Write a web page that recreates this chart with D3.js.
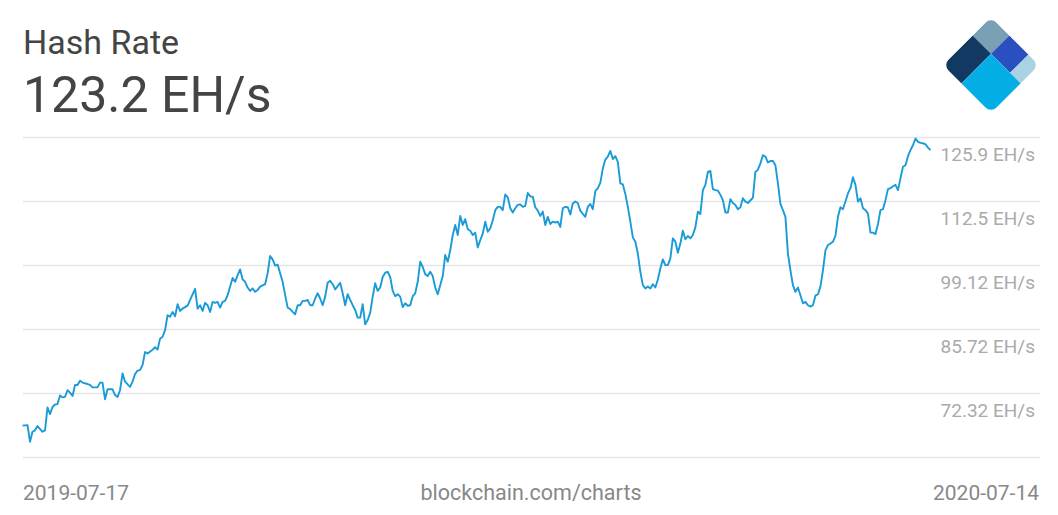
<!DOCTYPE html>
<html>
<head>
<meta charset="utf-8">
<script src="https://cdn.jsdelivr.net/npm/d3@7"></script>
<style>
  html, body { margin: 0; padding: 0; background: #fff; }
  svg { display: block; font-family: Roboto, "Noto Sans", sans-serif; }
</style>
</head>
<body>
<svg id="chart" width="1058" height="515"></svg>
<script>
// ---- data ----
const title = "Hash Rate";
const currentValue = "123.2 EH/s";
const startDate = "2019-07-17";
const endDate = "2020-07-14";
const sourceLabel = "blockchain.com/charts";

const dayOffsets = [
  0,2,3,4,5,6,8,9,10,11,12,13,14,15,16,17,18,19,20,21,22,23,24,26,27,28,30,31,32,33,34,36,37,38,39,40,
  41,43,44,45,46,47,48,49,50,52,53,54,55,56,57,58,59,60,61,62,63,64,66,67,69,70,71,72,73,74,75,76,77,78,
  79,80,81,82,83,84,85,86,87,88,89,90,91,92,93,94,95,97,98,99,100,101,102,103,104,105,106,107,108,109,110,
  111,112,113,114,115,116,117,118,119,120,121,122,123,124,125,126,127,128,129,130,131,132,133,134,135,136,
  137,138,139,140,141,142,143,144,145,146,147,148,149,150,151,152,153,154,155,156,157,158,159,160,161,162,
  163,164,165,166,167,168,169,170,171,172,173,174,175,176,177,178,179,180,181,182,183,184,185,186,187,188,
  189,190,191,192,193,194,195,196,197,198,199,200,201,202,203,204,205,206,207,208,209,210,211,212,213,214,
  215,216,217,218,219,220,221,222,223,224,225,226,227,228,229,230,231,232,233,234,235,236,237,238,239,240,
  241,242,243,244,245,246,247,248,249,250,251,252,253,254,255,256,257,258,259,260,261,262,263,264,265,266,
  267,268,269,270,271,272,273,274,275,276,277,278,279,280,281,282,283,284,285,286,287,288,289,290,292,293,
  294,295,296,297,298,299,300,301,302,303,304,305,306,307,308,309,310,311,312,313,314,315,316,317,318,319,
  320,321,322,323,324,325,326,327,328,329,330,331,332,333,334,335,336,337,338,339,340,341,342,343,344,345,
  346,347,348,349,350,351,352,353,354,355,356,357,358,359,360,361,362,363
];

const hashRate = [
  65.5,65.6,62.1,64.2,64.5,65.4,64.2,64.5,69.3,67.9,69.4,69.9,70.0,71.8,71.4,71.5,72.9,72.4,71.7,74.0,74.0,74.9,74.5,74.2,74.0,73.5,73.5,74.5,74.5,71.0,73.1,73.1,71.9,71.5,72.9,76.4,
  74.7,73.6,74.7,76.3,77.0,77.1,78.2,80.9,80.6,81.4,81.9,81.4,83.7,84.1,85.5,88.6,88.3,89.3,88.4,90.9,89.5,90.0,90.6,91.8,94.1,90.0,90.7,89.5,91.2,90.7,89.3,91.4,91.2,91.4,
  90.2,91.4,91.6,92.8,94.6,96.4,95.6,97.0,98.2,96.1,95.6,94.4,93.7,94.2,93.5,93.9,94.6,95.1,97.4,101.0,100.3,99.0,99.2,97.4,95.6,92.8,90.2,89.9,89.3,88.8,90.7,
  90.7,91.6,91.6,91.8,90.7,90.7,92.1,93.2,92.1,90.7,92.5,95.4,95.8,95.1,94.0,94.7,95.4,93.2,90.7,93.0,91.8,90.7,89.7,88.1,88.1,90.9,
  86.7,87.6,89.1,92.5,95.3,93.7,94.4,96.6,97.5,97.7,96.6,93.7,92.6,93.0,92.5,90.3,91.1,90.6,90.7,92.6,93.2,95.6,99.8,98.7,97.2,96.8,
  97.7,96.8,94.4,93.0,94.9,96.8,101.2,99.8,102.2,105.4,107.5,105.4,109.4,107.5,108.7,106.6,106.3,105.4,105.9,102.8,104.3,105.7,108.2,106.1,106.8,108.5,
  110.6,111.3,111.3,110.6,113.9,113.3,111.0,110.1,111.0,111.7,111.8,111.3,111.5,114.2,113.5,113.4,111.2,110.5,109.4,110.3,107.5,109.2,107.7,108.2,108.0,108.2,
  107.1,111.0,111.3,111.2,109.7,112.0,112.4,112.1,110.5,109.8,109.2,111.3,111.9,110.8,114.6,115.2,116.3,119.3,121.2,121.8,123.0,121.3,121.9,120.7,116.2,116.0,
  114.0,111.3,108.2,104.9,104.0,101.5,97.7,94.9,94.2,94.6,94.2,95.1,94.4,96.1,98.4,100.3,99.1,99.1,100.5,104.7,104.0,101.7,103.6,106.3,104.5,105.2,
  104.7,105.4,107.0,110.3,109.8,114.8,115.9,118.6,118.8,115.0,114.8,114.7,113.8,112.7,110.1,110.1,112.9,112.1,111.7,110.8,111.2,113.1,112.4,112.1,113.2,118.6,
  119.1,120.4,122.1,121.8,120.6,120.9,120.9,120.0,116.2,111.9,110.6,109.2,101.5,98.0,94.9,93.5,94.4,92.8,91.1,91.4,90.7,90.4,90.7,92.7,93.0,94.6,
  98.0,102.2,103.3,103.6,104.0,105.2,109.2,111.2,110.8,112.4,114.1,115.2,117.5,115.9,112.4,113.1,111.0,110.6,109.9,105.9,105.9,105.6,107.7,110.6,110.8,112.7,
  115.0,115.2,115.6,115.9,114.8,117.3,119.7,120.0,121.9,123.2,124.2,125.6,124.9,124.7,124.6,124.4,123.7,123.2
];

const gridValues = [125.92, 112.52, 99.12, 85.72, 72.32, 58.92];
const yTickLabels = ["125.9 EH/s", "112.5 EH/s", "99.12 EH/s", "85.72 EH/s", "72.32 EH/s", ""];

// ---- chart ----
const svg = d3.select("#chart");
const plot = { left: 22.5, lineRight: 930.5, gridRight: 1040, top: 137, bottom: 457 };

const parse = d3.utcParse("%Y-%m-%d");
const t0 = parse(startDate), t1 = parse(endDate);
const data = dayOffsets.map((d, i) => ({ date: d3.utcDay.offset(t0, d), value: hashRate[i] }));

const x = d3.scaleUtc().domain([t0, t1]).range([plot.left, plot.lineRight]);
const y = d3.scaleLinear().domain([gridValues[gridValues.length - 1], gridValues[0]]).range([plot.bottom, plot.top]);

// gridlines + labels via axis
const axis = d3.axisRight(y)
  .tickValues(gridValues)
  .tickSize(-(plot.gridRight - 23))
  .tickFormat((d, i) => yTickLabels[i]);

const gAxis = svg.append("g")
  .attr("transform", `translate(${plot.gridRight},0)`)
  .call(axis);
gAxis.select(".domain").remove();
gAxis.selectAll(".tick line").attr("stroke", "#e5e5e5").attr("stroke-width", 1.3);
gAxis.selectAll(".tick text")
  .attr("x", -5)
  .attr("dy", 23.5)
  .attr("text-anchor", "end")
  .attr("fill", "#aaaaaa")
  .style("font-size", "19px")
  .style("font-family", "Roboto, sans-serif");

// line
const line = d3.line().x(d => x(d.date)).y(d => y(d.value));
svg.append("path")
  .datum(data)
  .attr("fill", "none")
  .attr("stroke", "#1a9bd7")
  .attr("stroke-width", 1.9)
  .attr("stroke-linejoin", "round")
  .attr("d", line);

// titles
svg.append("text").attr("x", 23).attr("y", 54)
  .attr("fill", "#444").style("font-size", "34px").text(title);
svg.append("text").attr("x", 23).attr("y", 112)
  .attr("fill", "#444").style("font-size", "50px").text(currentValue);

// bottom labels
const fmt = d3.utcFormat("%Y-%m-%d");
svg.append("text").attr("x", 23).attr("y", 500)
  .attr("fill", "#888").style("font-size", "21px").text(fmt(t0));
svg.append("text").attr("x", 531).attr("y", 500).attr("text-anchor", "middle")
  .attr("fill", "#888").style("font-size", "21.5px").text(sourceLabel);
svg.append("text").attr("x", 1039).attr("y", 500).attr("text-anchor", "end")
  .attr("fill", "#888").style("font-size", "21px").text(fmt(t1));

// logo
const L = 68;
const defs = svg.append("defs");
defs.append("clipPath").attr("id", "logoClip")
  .append("rect").attr("width", L).attr("height", L).attr("rx", 8).attr("ry", 8);
const logo = svg.append("g").attr("transform", "translate(991,17) rotate(45)")
  .append("g").attr("clip-path", "url(#logoClip)");
const pieces = [
  { x: 0, y: 0, w: 26, h: 26, c: "#7aa0b6" },
  { x: 26, y: 0, w: 27, h: 26, c: "#2a50bf" },
  { x: 53, y: 0, w: 15, h: 26, c: "#a9d2e5" },
  { x: 0, y: 26, w: 26, h: 42, c: "#123962" },
  { x: 26, y: 26, w: 42, h: 42, c: "#03aee6" }
];
logo.selectAll("rect").data(pieces).join("rect")
  .attr("x", d => d.x).attr("y", d => d.y)
  .attr("width", d => d.w).attr("height", d => d.h)
  .attr("fill", d => d.c);
</script>
</body>
</html>
